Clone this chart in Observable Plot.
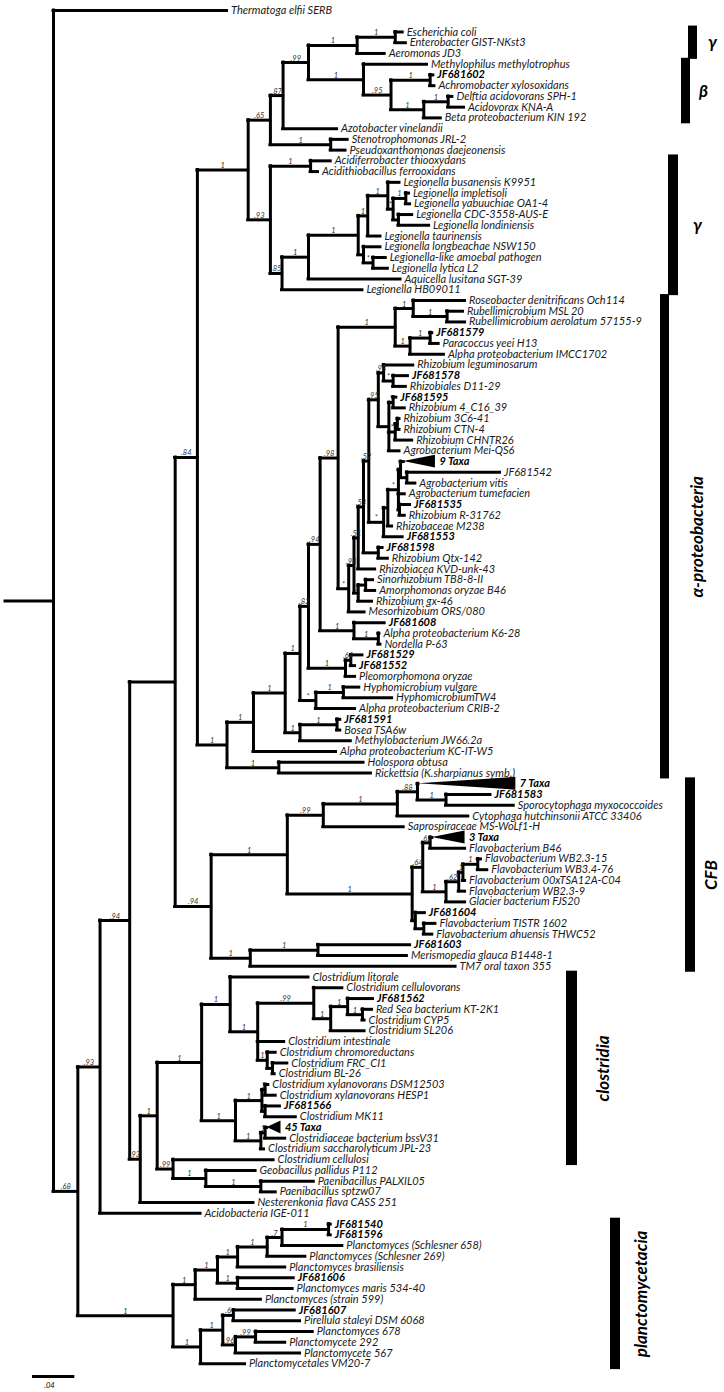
<!DOCTYPE html>
<html><head><meta charset="utf-8">
<script src="https://cdn.jsdelivr.net/npm/d3@7"></script>
<script src="https://cdn.jsdelivr.net/npm/@observablehq/plot@0.6"></script>
<style>
html,body{margin:0;padding:0;background:#fff;}
#chart svg{display:block;}
</style></head><body><div id="chart"></div>
<script>
// ---------------- DATA ----------------
// internal nodes: [id, parent, depth from root (subst./site), support]
const backboneNodes = [
  ["root", null, 0, ""],
  ["n68", "root", 0.023, ".68"],
  ["n93a", "n68", 0.044, ".93"],
  ["n94a", "n93a", 0.072, ".94"],
  ["n175", "n94a", 0.115, ""],
  ["n84", "n175", 0.136, ".84"],
  ["n210", "n175", 0.149, ".94"],
  ["n137", "n94a", 0.082, ".93"],
  ["p1", "n68", 0.113, "1"]
];
const gammaNodes = [
  ["g248","n84",0.184,"1"],
  ["g270","g248",0.205,".65"],
  ["g283","g270",0.217,".87"],
  ["g308","g283",0.241,".99"],
  ["g357","g308",0.287,"1"],
  ["g395","g357",0.323,"1"],
  ["g363","g308",0.293,"1"],
  ["g390","g363",0.319,".95"],
  ["g430","g390",0.356,"1"],
  ["g423","g390",0.350,"1"],
  ["g448","g423",0.373,"1"],
  ["g330","g270",0.262,"1"],
  ["g270b","g248",0.205,".93"],
  ["g310","g270b",0.243,"1"],
  ["g282","g270b",0.216,".85"],
  ["g308b","g282",0.241,"1"],
  ["g358","g308b",0.288,"1"],
  ["g367","g358",0.297,"1"],
  ["g387","g367",0.316,"1"],
  ["g393","g387",0.321,"*"],
  ["g405","g393",0.333,"1"],
  ["g398","g393",0.326,""],
  ["g363b","g358",0.293,""],
  ["g373","g363b",0.302,"*"]
];
const alphaNodes = [
  ["a227","n84",0.164,"1"],
  ["a253","a227",0.189,"1"],
  ["a285","a253",0.219,"1"],
  ["a300a","a285",0.233,"1"],
  ["a308","a300a",0.241,".82"],
  ["a320","a308",0.252,".94"],
  ["a338","a320",0.269,".98"],
  ["a395","a338",0.323,"1"],
  ["a413","a395",0.340,"1"],
  ["a447","a413",0.372,"1"],
  ["a410","a395",0.337,"1"],
  ["a430","a410",0.356,"1"],
  ["a353","a320",0.284,"1"],
  ["a378","a353",0.307,"1"],
  ["a345","a308",0.276,"1"],
  ["a350","a345",0.281,".64"],
  ["a315","a300a",0.248,"*"],
  ["a343","a315",0.274,"1"],
  ["a300b","a285",0.233,"1"],
  ["a337","a300b",0.268,"1"],
  ["a278","a227",0.213,"1"]
];
const rhizoNodes = [
  ["rstar","a338",0.279,"*"],
  ["r94","rstar",0.284,".94"],
  ["r51","r94",0.288,".51"],
  ["r53","r51",0.293,".53"],
  ["r52","r53",0.298,".52"],
  ["r95","r52",0.307,".95"],
  ["r98","r95",0.312,".98"],
  ["r78","r98",0.321,"*"],
  ["rsq","r95",0.317,""],
  ["r595","rsq",0.321,"*"],
  ["rch","rsq",0.323,"*"],
  ["rc","rch",0.325,""],
  ["rp","r52",0.312,"*"],
  ["rq","rp",0.316,""],
  ["rq2","rq",0.326,"*"],
  ["r9","rq2",0.328,"*"],
  ["r542","r9",0.334,""],
  ["r535","rq2",0.327,""],
  ["rqtx","r53",0.307,""],
  ["rsino","r94",0.288,"1"],
  ["rsa","rsino",0.295,""]
];
const cfbNodes = [
  ["c287","n210",0.221,"1"],
  ["c323","c287",0.255,".99"],
  ["c397","c323",0.325,"1"],
  ["c417","c397",0.344,".88"],
  ["c445","c417",0.371,"1"],
  ["f412","c287",0.339,"1"],
  ["f422","f412",0.349,".64"],
  ["f430","f422",0.356,".62"],
  ["f445","f422",0.371,"1"],
  ["f458","f445",0.383,".62"],
  ["f462","f458",0.387,"1"],
  ["f477","f462",0.401,"1"],
  ["f415","f412",0.342,"*"],
  ["f423","f415",0.350,""],
  ["c250","n210",0.186,"1"],
  ["c317","c250",0.250,"1"]
];
const clostNodes = [
  ["n155","n137",0.098,"1"],
  ["n200","n155",0.140,"1"],
  ["n230","n200",0.167,"1"],
  ["nx","n230",0.193,"1"],
  ["n99","nx",0.246,".99"],
  ["n330","n99",0.262,"1"],
  ["n347","n330",0.278,"1"],
  ["n362","n347",0.292,"1"],
  ["nchrom","nx",0.202,"1"],
  ["n272","nchrom",0.207,""],
  ["n235","n200",0.172,"1"],
  ["n263","n235",0.197,"1"],
  ["n267","n263",0.200,"1"],
  ["n265","n263",0.200,""],
  ["n260","n235",0.196,"1"],
  ["n45","n260",0.200,"1"],
  ["n172","n155",0.113,".99"],
  ["n205","n172",0.144,"1"],
  ["n260b","n205",0.196,"1"]
];
const planctoNodes = [
  ["p195","p1",0.134,"1"],
  ["p217","p195",0.155,"1"],
  ["p237a","p217",0.174,"1"],
  ["p267","p237a",0.202,"1"],
  ["p282","p267",0.216,".7"],
  ["p328","p282",0.260,"1"],
  ["p237b","p217",0.174,"1"],
  ["p200","p1",0.139,"1"],
  ["p222","p200",0.160,"1"],
  ["p233","p222",0.170,".6"],
  ["p235","p222",0.172,".96"],
  ["p255","p235",0.191,".99"]
];

// leaves, top to bottom: [name, parent, tip depth]
const outgroupLeaves = [["Thermatoga elfii SERB","root",0.164]];
const gammaBetaLeaves = [
  ["Escherichia coli","g395",0.330],
  ["Enterobacter GIST-NKst3","g395",0.333],
  ["Aeromonas JD3","g357",0.313],
  ["Methylophilus methylotrophus","g363",0.353],
  ["JF681602","g430",0.359],
  ["Achromobacter xylosoxidans","g430",0.360],
  ["Delftia acidovorans SPH-1","g448",0.377],
  ["Acidovorax KNA-A","g448",0.388],
  ["Beta proteobacterium KIN 192","g423",0.366],
  ["Azotobacter vinelandii","g283",0.268],
  ["Stenotrophomonas JRL-2","g330",0.278],
  ["Pseudoxanthomonas daejeonensis","g330",0.276],
  ["Acidiferrobacter thiooxydans","g310",0.262],
  ["Acidithiobacillus ferrooxidans","g310",0.250],
  ["Legionella busanensis K9951","g387",0.327],
  ["Legionella impletisoli","g405",0.336],
  ["Legionella yabuuchiae OA1-4","g405",0.337],
  ["Legionella CDC-3558-AUS-E","g398",0.339],
  ["Legionella londiniensis","g398",0.355],
  ["Legionella taurinensis","g367",0.309],
  ["Legionella longbeachae NSW150","g363b",0.309],
  ["Legionella-like amoebal pathogen","g373",0.314],
  ["Legionella lytica L2","g373",0.316],
  ["Aquicella lusitana SGT-39","g308b",0.328],
  ["Legionella HB09011","g282",0.292]
];
const alphaLeaves = [
  ["Roseobacter denitrificans Och114","a413",0.389],
  ["Rubellimicrobium MSL 20","a447",0.387],
  ["Rubellimicrobium aerolatum 57155-9","a447",0.389],
  ["JF681579","a430",0.358],
  ["Paracoccus yeei H13","a430",0.364],
  ["Alpha proteobacterium IMCC1702","a410",0.369],
  ["Rhizobium leguminosarum","r98",0.340],
  ["JF681578","r78",0.335],
  ["Rhizobiales D11-29","r78",0.333],
  ["JF681595","r595",0.324],
  ["Rhizobium 4_C16_39","r595",0.332],
  ["Rhizobium 3C6-41","rc",0.327],
  ["Rhizobium CTN-4","rc",0.327],
  ["Rhizobium CHNTR26","rch",0.339],
  ["Agrobacterium Mei-QS6","rsq",0.327],
  ["9 Taxa","r9",0.331],
  ["JF681542","r542",0.422],
  ["Agrobacterium vitis","r542",0.342],
  ["Agrobacterium tumefacien","rq2",0.332],
  ["JF681535","r535",0.337],
  ["Rhizobium R-31762","r535",0.332],
  ["Rhizobaceae M238","rq",0.320],
  ["JF681553","rp",0.330],
  ["JF681598","rqtx",0.311],
  ["Rhizobium Qtx-142","rqtx",0.316],
  ["Rhizobiacea KVD-unk-43","r51",0.304],
  ["Sinorhizobium TB8-8-II","rsa",0.302],
  ["Amorphomonas oryzae B46","rsa",0.304],
  ["Rhizobium gx-46","rsino",0.301],
  ["Mesorhizobium ORS/080","rstar",0.294],
  ["JF681608","a353",0.313],
  ["Alpha proteobacterium K6-28","a378",0.308],
  ["Nordella P-63","a378",0.309],
  ["JF681529","a350",0.292],
  ["JF681552","a350",0.285],
  ["Pleomorphomona oryzae","a345",0.285],
  ["Hyphomicrobium vulgare","a343",0.289],
  ["HyphomicrobiumTW4","a343",0.320],
  ["Alpha proteobacterium CRIB-2","a315",0.285],
  ["JF681591","a337",0.271],
  ["Bosea TSA6w","a337",0.271],
  ["Methylobacterium JW66.2a","a300b",0.281],
  ["Alpha proteobacterium KC-IT-W5","a253",0.267],
  ["Holospora obtusa","a278",0.293],
  ["Rickettsia (K.sharpianus symb.)","a278",0.300]
];
const cfbLeaves = [
  ["7 Taxa","c417",0.345],
  ["JF681583","c445",0.413],
  ["Sporocytophaga myxococcoides","c445",0.435],
  ["Cytophaga hutchinsonii ATCC 33406","c397",0.392],
  ["Saprospiraceae MS-WoLf1-H","c323",0.331],
  ["3 Taxa","f430",0.358],
  ["Flavobacterium B46","f430",0.389],
  ["Flavobacterium WB2.3-15","f477",0.404],
  ["Flavobacterium WB3.4-76","f477",0.410],
  ["Flavobacterium 00xTSA12A-C04","f462",0.389],
  ["Flavobacterium WB2.3-9","f458",0.389],
  ["Glacier bacterium FJS20","f445",0.389],
  ["JF681604","f415",0.351],
  ["Flavobacterium TISTR 1602","f423",0.361],
  ["Flavobacterium ahuensis THWC52","f423",0.358],
  ["JF681603","c317",0.337],
  ["Merismopedia glauca B1448-1","c317",0.334],
  ["TM7 oral taxon 355","c250",0.380]
];
const clostLeaves = [
  ["Clostridium litorale","n230",0.241],
  ["Clostridium cellulovorans","n99",0.273],
  ["JF681562","n347",0.302],
  ["Red Sea bacterium KT-2K1","n362",0.301],
  ["Clostridium CYP5","n362",0.294],
  ["Clostridium SL206","n330",0.294],
  ["Clostridium intestinale","nx",0.218],
  ["Clostridium chromoreductans","nchrom",0.210],
  ["Clostridium FRC_CI1","n272",0.221],
  ["Clostridium BL-26","n272",0.209],
  ["Clostridium xylanovorans DSM12503","n267",0.203],
  ["Clostridium xylanovorans HESP1","n267",0.210],
  ["JF681566","n265",0.214],
  ["Clostridium MK11","n265",0.229],
  ["45 Taxa","n45",0.202],
  ["Clostridiaceae bacterium bssV31","n45",0.219],
  ["Clostridium saccharolyticum JPL-23","n260",0.199],
  ["Clostridium cellulosi","n172",0.208],
  ["Geobacillus pallidus P112","n205",0.191],
  ["Paenibacillus PALXIL05","n260b",0.246],
  ["Paenibacillus sptzw07","n260b",0.210],
  ["Nesterenkonia flava CASS 251","n137",0.189],
  ["Acidobacteria IGE-011","n93a",0.139]
];
const planctoLeaves = [
  ["JF681540","p328",0.262],
  ["JF681596","p328",0.262],
  ["Planctomyces (Schlesner 658)","p282",0.273],
  ["Planctomyces (Schlesner 269)","p267",0.238],
  ["Planctomyces brasiliensis","p237a",0.219],
  ["JF681606","p237b",0.227],
  ["Planctomyces maris 534-40","p237b",0.226],
  ["Planctomyces (strain 599)","p195",0.196],
  ["JF681607","p233",0.228],
  ["Pirellula staleyi DSM 6068","p233",0.233],
  ["Planctomyces 678","p255",0.245],
  ["Planctomycete 292","p255",0.219],
  ["Planctomycete 567","p235",0.233],
  ["Planctomycetales VM20-7","p200",0.181]
];
// collapsed clades: [label, depth of triangle base]
const collapsedClades = [["9 Taxa",0.361],["7 Taxa",0.437],["3 Taxa",0.389],["45 Taxa",0.215]];
// bold tip labels
const boldLabels = ["JF681602","JF681579","JF681578","JF681595","9 Taxa","JF681535","JF681553","JF681598",
  "JF681608","JF681529","JF681552","JF681591","7 Taxa","JF681583","3 Taxa","JF681604","JF681603",
  "JF681562","JF681566","45 Taxa","JF681540","JF681596","JF681606","JF681607"];
// taxonomic groups: [label, first tip, last tip]
const groupLabels = ["γ","β","γ","α-proteobacteria","CFB","clostridia","planctomycetacia"];
const groupFirst = ["Escherichia coli","Methylophilus methylotrophus","Acidiferrobacter thiooxydans","Roseobacter denitrificans Och114","7 Taxa","Clostridium litorale","JF681540"];
const groupLast = ["Aeromonas JD3","Beta proteobacterium KIN 192","Legionella HB09011","Rickettsia (K.sharpianus symb.)","TM7 oral taxon 355","Clostridium cellulosi","Planctomycetales VM20-7"];
const scaleBarLength = 0.04;
const scaleBarLabel = ".04";

// ---------------- LAYOUT ----------------
const W = 724, H = 1392;
const xDomain = [-0.0501, 0.6342];
const yDomain = [-0.931, 128.68];
const pxX = px => xDomain[0] + px / W * (xDomain[1] - xDomain[0]);
const pxY = py => yDomain[0] + py / H * (yDomain[1] - yDomain[0]);
const groupLayout = [ // bar left px, bar right px, label x px, rotate
  [688, 697, 712, 0],
  [681, 690, 703, 0],
  [668, 678, 697, 0],
  [660, 669, 697, -90],
  [685, 695, 711, -90],
  [566, 577, 603, -90],
  [610, 620, 641, -90]
];

// ---------------- TREE BUILD ----------------
const allNodes = [...backboneNodes, ...gammaNodes, ...alphaNodes, ...rhizoNodes, ...cfbNodes, ...clostNodes, ...planctoNodes];
const allLeaves = [...outgroupLeaves, ...gammaBetaLeaves, ...alphaLeaves, ...cfbLeaves, ...clostLeaves, ...planctoLeaves];
const info = new Map();
for (const [id, parent, depth, support] of allNodes) info.set(id, {id, parent, depth, support, children: [], leaf: false});
allLeaves.forEach(([name, parent, depth], k) => {
  info.set("leaf:" + name, {id: name, parent, depth, support: "", children: [], leaf: true, y: k === 0 ? 0 : k + 1});
});
for (const n of info.values()) if (n.parent) info.get(n.parent).children.push(n);
function setY(n) {
  if (n.leaf) return n.y;
  const ys = n.children.map(setY);
  n.y0 = Math.min(...ys); n.y1 = Math.max(...ys); n.y = (n.y0 + n.y1) / 2;
  return n.y;
}
const root = info.get("root");
setY(root);

const horiz = [], vert = [], supports = [];
for (const n of info.values()) {
  if (n.parent) {
    const p = info.get(n.parent);
    horiz.push({x1: p.depth, x2: n.depth, y: n.y});
    if (n.support) supports.push({x: (p.depth + n.depth) / 2, y: n.y, text: n.support});
  }
  if (!n.leaf) vert.push({x: n.depth, y1: n.y0, y2: n.y1});
}
horiz.push({x1: pxX(5), x2: 0, y: root.y});

const collapsedMap = new Map(collapsedClades);
const tri = [];
const tipLabels = [];
for (const [name] of allLeaves) {
  const n = info.get("leaf:" + name);
  let xLab = n.depth;
  if (collapsedMap.has(name)) {
    const b = collapsedMap.get(name);
    tri.push({name, x: n.depth, ya: n.y, yb: n.y});
    tri.push({name, x: b, ya: n.y - 0.6, yb: n.y + 0.6});
    xLab = b;
  }
  tipLabels.push({x: xLab, y: n.y, text: name, bold: boldLabels.includes(name)});
}
const rowOf = name => info.get("leaf:" + name).y;
const bars = [], gLabs = [];
groupLabels.forEach((lab, i) => {
  const [bl, br, lx, rot] = groupLayout[i];
  const y1 = rowOf(groupFirst[i]) - 0.55, y2 = rowOf(groupLast[i]) + 0.55;
  bars.push({x1: pxX(bl), x2: pxX(br), y1, y2});
  gLabs.push({x: pxX(lx), y: (y1 + y2) / 2, text: lab, rot});
});
const sbX1 = pxX(32), sbY = pxY(1376);

const font = "Lato, 'Open Sans', 'DejaVu Sans', sans-serif";
const chart = Plot.plot({
  width: W, height: H, margin: 0,
  x: {domain: xDomain, range: [0, W], axis: null},
  y: {domain: yDomain, range: [0, H], axis: null},
  style: {fontFamily: font, background: "#fff", color: "#000"},
  marks: [
    Plot.ruleY(horiz, {y: "y", x1: "x1", x2: "x2", stroke: "#000", strokeWidth: 3, strokeLinecap: "square"}),
    Plot.ruleX(vert, {x: "x", y1: "y1", y2: "y2", stroke: "#000", strokeWidth: 3, strokeLinecap: "square"}),
    Plot.areaY(tri, {x: "x", y1: "ya", y2: "yb", z: "name", fill: "#000", curve: "linear"}),
    Plot.text(tipLabels.filter(d => !d.bold), {x: "x", y: "y", text: "text", dx: 4, textAnchor: "start", fontStyle: "italic", fontSize: 11, fill: "#1a1a1a"}),
    Plot.text(tipLabels.filter(d => d.bold), {x: "x", y: "y", text: "text", dx: 4, textAnchor: "start", fontStyle: "italic", fontWeight: "bold", fontSize: 11, fill: "#000"}),
    Plot.text(supports, {x: "x", y: "y", text: "text", dy: -2, lineAnchor: "bottom", fontStyle: "italic", fontSize: 7.5, fill: "#333"}),
    Plot.rect(bars, {x1: "x1", x2: "x2", y1: "y1", y2: "y2", fill: "#000"}),
    Plot.text(gLabs.filter(d => d.rot === 0), {x: "x", y: "y", text: "text", fontSize: 17, fontWeight: "bold", fontStyle: "italic"}),
    Plot.text(gLabs.filter(d => d.rot !== 0), {x: "x", y: "y", text: "text", rotate: -90, fontSize: 17, fontWeight: "bold", fontStyle: "italic"}),
    Plot.ruleY([{y: sbY, x1: sbX1, x2: sbX1 + scaleBarLength}], {y: "y", x1: "x1", x2: "x2", stroke: "#000", strokeWidth: 3}),
    Plot.text([{x: sbX1 + scaleBarLength * 0.4, y: sbY, text: scaleBarLabel}], {x: "x", y: "y", text: "text", dy: 9, fontSize: 7.5, fontStyle: "italic"})
  ]
});
document.getElementById("chart").appendChild(chart);
</script>
</body></html>
